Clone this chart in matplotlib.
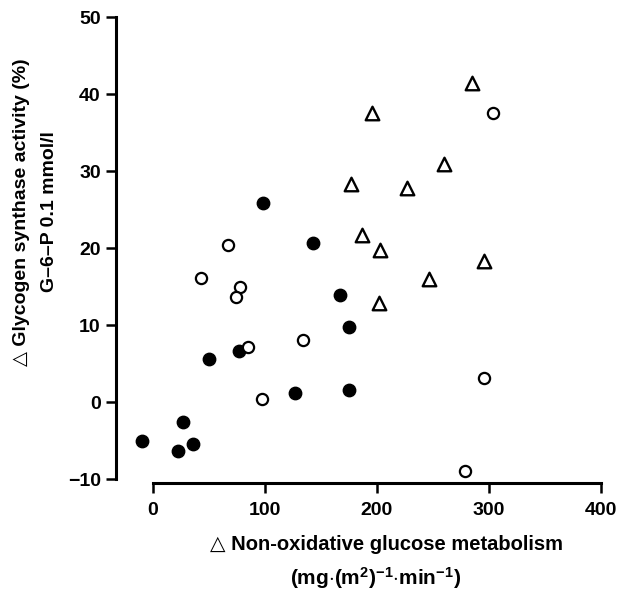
import matplotlib
matplotlib.use("Agg")
import matplotlib.pyplot as plt

plt.rcParams['font.family'] = ['Liberation Sans', 'DejaVu Sans']
plt.rcParams['font.weight'] = 'bold'
plt.rcParams['mathtext.fontset'] = 'custom'
plt.rcParams['mathtext.rm'] = 'Liberation Sans:bold'
plt.rcParams['mathtext.default'] = 'rm'

# filled circles
filled_x = [-10, 22, 27, 35.5, 50, 76.5, 98.5, 127, 143, 167, 175, 175]
filled_y = [-5.1, -6.3, -2.6, -5.5, 5.6, 6.7, 25.9, 1.2, 20.7, 13.9, 9.8, 1.6]

# open circles
open_x = [43, 67, 78, 74, 84.5, 97, 134, 296, 279, 303.5]
open_y = [16.1, 20.4, 15.0, 13.7, 7.2, 0.4, 8.1, 3.1, -9.0, 37.6]

# triangles
tri_x = [285, 196, 177, 227, 260, 187, 203, 296, 247, 202]
tri_y = [41.4, 37.6, 28.3, 27.8, 30.9, 21.7, 19.7, 18.3, 16.0, 12.9]

xticks = [0, 100, 200, 300, 400]
yticks = [-10, 0, 10, 20, 30, 40, 50]

fig = plt.figure(figsize=(6.29, 5.93), dpi=100)
ax = fig.add_axes([116 / 629, 110 / 593, 496 / 629, 466 / 593])

ax.scatter(filled_x, filled_y, s=80, c='black', marker='o', zorder=3)
ax.scatter(open_x, open_y, s=65, facecolors='white', edgecolors='black',
           linewidths=1.6, marker='o', zorder=3)
ax.scatter(tri_x, tri_y, s=95, facecolors='white', edgecolors='black',
           linewidths=1.7, marker='^', zorder=3)

ax.set_xlim(-33, 410)
ax.set_ylim(-10.5, 50)
ax.spines['top'].set_visible(False)
ax.spines['right'].set_visible(False)
ax.spines['left'].set_bounds(-10, 50)
ax.spines['bottom'].set_bounds(0, 400)
ax.spines['left'].set_linewidth(2.2)
ax.spines['bottom'].set_linewidth(2.2)
ax.set_xticks(xticks)
ax.set_yticks(yticks)
ax.tick_params(axis='both', direction='out', length=7, width=1.8,
               labelsize=14, pad=4)
ax.tick_params(axis='x', pad=7)
for lab in ax.get_xticklabels() + ax.get_yticklabels():
    lab.set_fontweight('bold')

fig.text(22 / 629, 1 - 212 / 593, '△ Glycogen synthase activity (%)',
         rotation=90, ha='center', va='center', fontsize=14, fontweight='bold')
fig.text(50 / 629, 1 - 212 / 593, 'G–6–P 0.1 mmol/l',
         rotation=90, ha='center', va='center', fontsize=14, fontweight='bold')
fig.text(386 / 629, 1 - 545 / 593, '△ Non-oxidative glucose metabolism',
         ha='center', va='center', fontsize=14.5, fontweight='bold')
fig.text(376 / 629, 1 - 578 / 593,
         r'(mg$\cdot$(m$^{2}$)$^{-1}$$\cdot$min$^{-1}$)',
         ha='center', va='center', fontsize=15, fontweight='bold')

fig.savefig('out.png', dpi=100)
